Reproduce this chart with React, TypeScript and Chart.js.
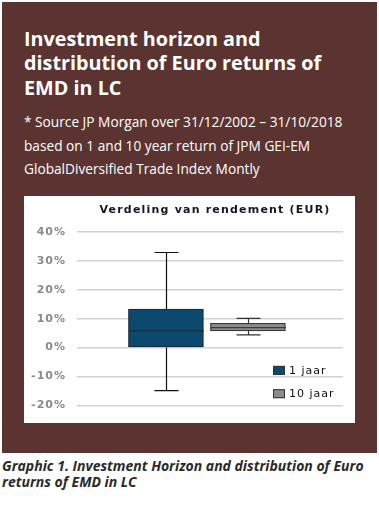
import React, { useEffect, useRef } from 'react';
import { Chart, registerables } from 'chart.js';

Chart.register(...registerables);

const headingLines = ['Investment horizon and', 'distribution of Euro returns of', 'EMD in LC'];
const sourceLines = [
  '* Source JP Morgan over 31/12/2002 \u2013 31/10/2018',
  'based on 1 and 10 year return of JPM GEI-EM',
  'GlobalDiversified Trade Index Montly',
];
const captionText = 'Graphic 1. Investment Horizon and distribution of Euro returns of EMD in LC';

const chartTitle = 'Verdeling van rendement (EUR)';
const seriesNames = ['1 jaar', '10 jaar'];
const positions = [1, 2];
const minValues = [-14.9, 4.4];
const q1Values = [0, 5.8];
const medianValues = [5.8, 6.9];
const q3Values = [13.3, 8.4];
const maxValues = [32.9, 10.1];
const yTicks = [-20, -10, 0, 10, 20, 30, 40];

const fillColors = ['#0b4a6e', '#8c8c8c'];
const edgeColors = ['#1c2a36', '#3a3a3a'];
const whiskerColors = ['#111111', '#333333'];

const boxPlotPlugin = {
  id: 'boxWhiskers',
  beforeDraw(chart: any) {
    chart.ctx.letterSpacing = '1px';
  },
  afterDatasetsDraw(chart: any) {
    const ctx = chart.ctx;
    const y = chart.scales.y;
    ctx.save();
    chart.data.datasets.forEach((ds: any, i: number) => {
      const meta = chart.getDatasetMeta(i);
      const bar = meta.data[0];
      if (!bar) return;
      const cx = Math.round(bar.x) + 0.5;
      const w = bar.width;
      const cap = w * 0.32;
      const pMax = y.getPixelForValue(maxValues[i]);
      const pMin = y.getPixelForValue(minValues[i]);
      const pQ1 = y.getPixelForValue(q1Values[i]);
      const pQ3 = y.getPixelForValue(q3Values[i]);
      const pMed = y.getPixelForValue(medianValues[i]);
      ctx.strokeStyle = whiskerColors[i];
      ctx.lineWidth = 1.2;
      ctx.beginPath();
      ctx.moveTo(cx, pQ3);
      ctx.lineTo(cx, pMax);
      ctx.moveTo(cx - cap / 2, pMax);
      ctx.lineTo(cx + cap / 2, pMax);
      ctx.moveTo(cx, pQ1);
      ctx.lineTo(cx, pMin);
      ctx.moveTo(cx - cap / 2, pMin);
      ctx.lineTo(cx + cap / 2, pMin);
      ctx.stroke();
      ctx.strokeStyle = edgeColors[i];
      ctx.beginPath();
      ctx.moveTo(cx - w / 2, pMed);
      ctx.lineTo(cx + w / 2, pMed);
      ctx.stroke();
    });
    ctx.restore();
  },
  afterDraw(chart: any) {
    const ctx = chart.ctx;
    const area = chart.chartArea;
    ctx.save();
    ctx.letterSpacing = '1.2px';
    ctx.font = 'bold 11px "DejaVu Sans"';
    ctx.fillStyle = '#15152a';
    ctx.textAlign = 'center';
    ctx.textBaseline = 'middle';
    ctx.fillText(chartTitle, (area.left + area.right) / 2 + 5, 14);
    ctx.letterSpacing = '1px';
    ctx.font = '11px "DejaVu Sans"';
    ctx.textAlign = 'left';
    chart.data.datasets.forEach((ds: any, i: number) => {
      const sx = area.right - 70;
      const sy = area.bottom - 35 + i * 23.3;
      ctx.fillStyle = ds.backgroundColor;
      ctx.fillRect(sx, sy - 4.5, 12, 9);
      ctx.strokeStyle = '#333333';
      ctx.lineWidth = 1;
      ctx.strokeRect(sx + 0.5, sy - 4, 11, 8);
      ctx.fillStyle = '#111111';
      ctx.fillText(ds.label, sx + 16, sy + 0.5);
    });
    ctx.restore();
  },
};

function BoxChart() {
  const ref = useRef<HTMLCanvasElement>(null);
  useEffect(() => {
    if (!ref.current) return;
    const chart = new Chart(ref.current, {
      type: 'bar',
      data: {
        datasets: seriesNames.map((name, i) => ({
          label: name,
          data: [{ x: positions[i], y: [q1Values[i], q3Values[i]] }],
          backgroundColor: fillColors[i],
          borderColor: edgeColors[i],
          borderWidth: 1.2,
          borderSkipped: false,
          barThickness: 75,
          grouped: false,
        })) as any,
      },
      options: {
        animation: false,
        responsive: false,
        maintainAspectRatio: false,
        layout: { padding: { top: 36, right: 12, bottom: 17, left: 0 } },
        plugins: {
          legend: { display: false },
          title: { display: false },
          tooltip: { enabled: false },
        },
        scales: {
          x: {
            type: 'linear',
            display: false,
            offset: false,
            grid: { offset: false },
            min: -0.085,
            max: 3.16,
          },
          y: {
            min: yTicks[0],
            max: yTicks[yTicks.length - 1],
            afterBuildTicks: (scale: any) => {
              scale.ticks = yTicks.map((v) => ({ value: v }));
            },
            afterFit: (scale: any) => {
              scale.width = 53;
            },
            border: { display: false },
            grid: { color: '#d2d2d2', lineWidth: 1.5, drawTicks: false },
            ticks: {
              padding: 11,
              color: '#8a8a8a',
              font: { family: '"DejaVu Sans"', weight: 'bold', size: 11 },
              callback: (v: any) => v + '%',
            },
          },
        },
      } as any,
      plugins: [boxPlotPlugin],
    });
    return () => chart.destroy();
  }, []);
  return <canvas ref={ref} width={331} height={227} style={{ display: 'block', width: 331, height: 227 }} />;
}

export default function App() {
  return (
    <div style={{ position: 'absolute', left: 0, top: 0, width: 379, height: 508, background: '#ffffff', overflow: 'hidden' }}>
      <div style={{ position: 'absolute', left: 2, top: 2, width: 375, height: 451, background: '#5b3431' }} />
      <div
        style={{
          position: 'absolute',
          left: 24,
          top: 26.5,
          fontFamily: '"Open Sans"',
          fontWeight: 700,
          fontSize: 19.8,
          lineHeight: '24.5px',
          color: '#ffffff',
          whiteSpace: 'nowrap',
        }}
      >
        {headingLines.map((l, i) => (
          <div key={i}>{l}</div>
        ))}
      </div>
      <div
        style={{
          position: 'absolute',
          left: 24,
          top: 109.8,
          fontFamily: '"Open Sans"',
          fontWeight: 400,
          fontSize: 13.7,
          lineHeight: '23.7px',
          color: '#ffffff',
          whiteSpace: 'nowrap',
        }}
      >
        {sourceLines.map((l, i) => (
          <div key={i}>{l}</div>
        ))}
      </div>
      <div style={{ position: 'absolute', left: 24, top: 196, width: 331, height: 227, background: '#ffffff' }}>
        <BoxChart />
      </div>
      <div
        style={{
          position: 'absolute',
          left: 2,
          top: 457.5,
          width: 376,
          fontFamily: '"Open Sans"',
          fontWeight: 700,
          fontStyle: 'italic',
          fontSize: 14,
          lineHeight: '16px',
          color: '#2a2a2a',
        }}
      >
        {captionText}
      </div>
    </div>
  );
}
